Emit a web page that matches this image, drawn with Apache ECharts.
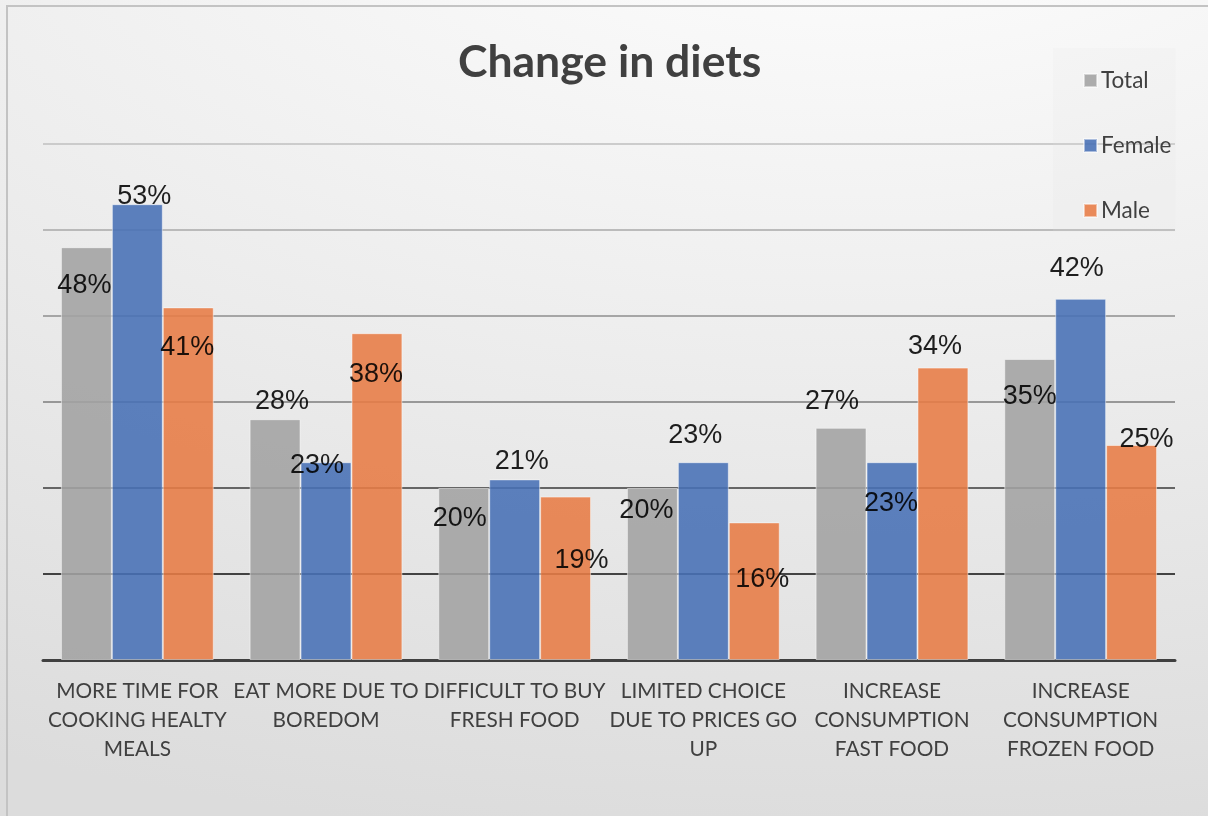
<!DOCTYPE html>
<html>
<head>
<meta charset="utf-8">
<title>Change in diets</title>
<script src="https://cdn.jsdelivr.net/npm/echarts@6/dist/echarts.min.js"></script>
<style>
  html, body { margin: 0; padding: 0; }
  #chart {
    width: 1208px;
    height: 816px;
    background: radial-gradient(ellipse 2000px 1000px at 850px -150px, #ffffff 0%, #dcdcdc 100%);
  }
</style>
</head>
<body>
<div id="chart"></div>
<script>
// Survey categories (x axis), line breaks as printed under each group
const categories = [
  'MORE TIME FOR\nCOOKING HEALTY\nMEALS',
  'EAT MORE DUE TO\nBOREDOM',
  'DIFFICULT TO BUY\nFRESH FOOD',
  'LIMITED CHOICE\nDUE TO PRICES GO\nUP',
  'INCREASE\nCONSUMPTION\nFAST FOOD',
  'INCREASE\nCONSUMPTION\nFROZEN FOOD'
];

// Share of respondents, in percent
const totalValues  = [48, 28, 20, 20, 27, 35];
const femaleValues = [53, 23, 21, 23, 23, 42];
const maleValues   = [41, 38, 19, 16, 34, 25];

// Value axis ticks (percent)
const yMin = 0;
const yMax = 60;
const yStep = 10;

// Per-bar nudges [dx, dy] of each value label from the top centre of its bar
const totalLabelNudge  = [[-2, 38], [7, -18], [-4, 31], [-6, 23], [-9, -26], [0, 38]];
const femaleLabelNudge = [[7, -8], [-9, 3], [7, -18], [-8, -27], [-1, 41], [-4, -30]];
const maleLabelNudge   = [[-1, 40], [-1, 41], [16, 64], [8, 57], [-8, -21], [15, -5]];

const chart = echarts.init(document.getElementById('chart'), null, { renderer: 'canvas' });

function withLabels(values, nudges) {
  return values.map((v, i) => ({ value: v, label: { offset: nudges[i] } }));
}

const valueLabel = {
  show: true,
  position: 'top',
  distance: 0,
  align: 'center',
  verticalAlign: 'middle',
  formatter: '{c}%',
  fontFamily: '"Liberation Sans", Arial, sans-serif',
  fontSize: 27,
  color: '#000000'
};

function barSeries(name, color, values, nudges) {
  return {
    name: name,
    type: 'bar',
    barGap: '0%',
    barCategoryGap: '19%',
    itemStyle: {
      color: color,
      opacity: 0.88,
      borderColor: 'rgba(255,255,255,0.55)',
      borderWidth: 1
    },
    label: valueLabel,
    emphasis: { disabled: true },
    data: withLabels(values, nudges)
  };
}

const option = {
  animation: false,
  backgroundColor: 'transparent',
  title: {
    text: 'Change in diets',
    left: 453,
    top: 35,
    textStyle: {
      fontFamily: 'Lato, "Open Sans", sans-serif',
      fontWeight: 'bold',
      fontSize: 44.5,
      color: '#404040'
    }
  },
  legend: {
    orient: 'vertical',
    left: 1053,
    top: 48,
    padding: [21, 4, 10, 30],
    backgroundColor: 'rgba(225,225,225,0.14)',
    itemWidth: 13,
    itemHeight: 13,
    itemGap: 42,
    icon: 'rect',
    textStyle: {
      fontFamily: 'Lato, "Open Sans", sans-serif',
      fontSize: 22.5,
      lineHeight: 22,
      color: '#404040',
      padding: [0, 0, 0, -1]
    },
    data: ['Total', 'Female', 'Male']
  },
  grid: {
    left: 43,
    right: 33,
    top: 144,
    bottom: 156
  },
  xAxis: {
    type: 'category',
    data: categories,
    axisTick: { show: false },
    axisLine: { show: true, lineStyle: { color: '#404040', width: 3 } },
    axisLabel: {
      interval: 0,
      margin: 17,
      fontFamily: 'Lato, "Open Sans", sans-serif',
      fontSize: 20.8,
      lineHeight: 29,
      color: '#404040'
    },
    splitLine: { show: false }
  },
  yAxis: {
    type: 'value',
    min: yMin,
    max: yMax,
    interval: yStep,
    axisLabel: { show: false },
    axisLine: { show: false },
    axisTick: { show: false },
    splitLine: {
      show: true,
      lineStyle: {
        width: 1.6,
        color: ['#404040', '#0d0d0d', '#3a3a3a', '#7c7c7c', '#8e8e8e', '#a8a8a8', '#bfbfbf']
      }
    }
  },
  graphic: [{
    type: 'rect',
    silent: true,
    z: -1,
    shape: { x: 7, y: 6, width: 1400, height: 1000 },
    style: { fill: 'none', stroke: '#c3c3c3', lineWidth: 2 }
  }],
  series: [
    barSeries('Total', '#a2a2a2', totalValues, totalLabelNudge),
    barSeries('Female', '#4770b5', femaleValues, femaleLabelNudge),
    barSeries('Male', '#e77b44', maleValues, maleLabelNudge)
  ]
};

chart.setOption(option);
</script>
</body>
</html>
